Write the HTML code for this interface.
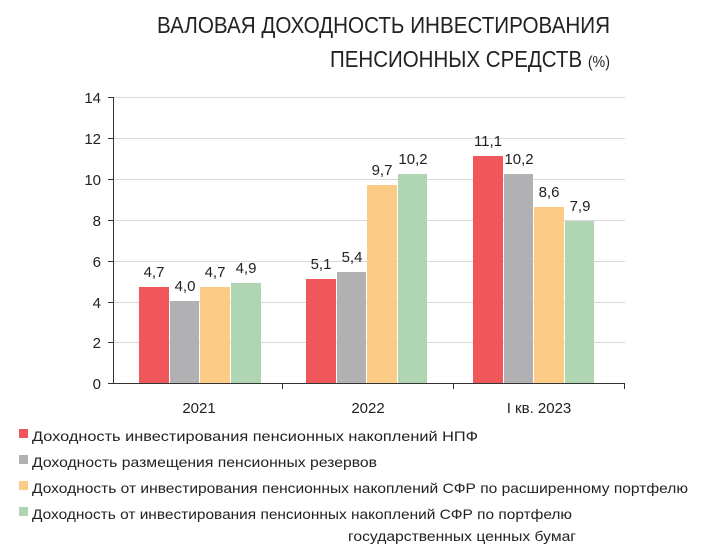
<!DOCTYPE html>
<html><head><meta charset="utf-8"><style>body{margin:0;background:#fff}svg{display:block}text{font-family:"Liberation Sans",sans-serif;fill:#222}</style></head><body>
<svg width="701" height="555" viewBox="0 0 701 555">
<text x="157" y="33" font-size="23" textLength="453" lengthAdjust="spacingAndGlyphs">ВАЛОВАЯ ДОХОДНОСТЬ ИНВЕСТИРОВАНИЯ</text>
<text x="330" y="67" font-size="23" textLength="280" lengthAdjust="spacingAndGlyphs">ПЕНСИОННЫХ СРЕДСТВ <tspan font-size="16">(%)</tspan></text>
<g stroke="#d9d9d9" stroke-width="1">
<line x1="113" x2="625" y1="97.5" y2="97.5"/><line x1="113" x2="625" y1="138.5" y2="138.5"/><line x1="113" x2="625" y1="179.5" y2="179.5"/><line x1="113" x2="625" y1="220.5" y2="220.5"/><line x1="113" x2="625" y1="261.5" y2="261.5"/><line x1="113" x2="625" y1="302.5" y2="302.5"/><line x1="113" x2="625" y1="342.5" y2="342.5"/>
</g>
<g stroke="#333" stroke-width="1">
<line x1="113.5" x2="113.5" y1="97" y2="383"/>
<line x1="108" x2="625" y1="383.5" y2="383.5"/>
<line x1="108" x2="113" y1="97.5" y2="97.5"/><line x1="108" x2="113" y1="138.5" y2="138.5"/><line x1="108" x2="113" y1="179.5" y2="179.5"/><line x1="108" x2="113" y1="220.5" y2="220.5"/><line x1="108" x2="113" y1="261.5" y2="261.5"/><line x1="108" x2="113" y1="302.5" y2="302.5"/><line x1="108" x2="113" y1="342.5" y2="342.5"/>
<line x1="282.5" x2="282.5" y1="383" y2="389"/><line x1="453.5" x2="453.5" y1="383" y2="389"/><line x1="624.5" x2="624.5" y1="383" y2="389"/>
</g>
<g font-size="15" text-anchor="end">
<text x="101" y="103">14</text><text x="101" y="144">12</text><text x="101" y="185">10</text><text x="101" y="226">8</text><text x="101" y="267">6</text><text x="101" y="308">4</text><text x="101" y="348">2</text><text x="101" y="389">0</text>
</g>
<g>
<rect x="139" y="287" width="30" height="96" fill="#f0575a"/>
<rect x="170" y="301" width="29" height="82" fill="#b1b1b3"/>
<rect x="200" y="287" width="30" height="96" fill="#fccb85"/>
<rect x="231" y="283" width="30" height="100" fill="#afd5b3"/>
<rect x="306" y="279" width="30" height="104" fill="#f0575a"/>
<rect x="337" y="272" width="29" height="111" fill="#b1b1b3"/>
<rect x="367" y="185" width="30" height="198" fill="#fccb85"/>
<rect x="398" y="174" width="29" height="209" fill="#afd5b3"/>
<rect x="473" y="156" width="30" height="227" fill="#f0575a"/>
<rect x="504" y="174" width="29" height="209" fill="#b1b1b3"/>
<rect x="534" y="207" width="30" height="176" fill="#fccb85"/>
<rect x="565" y="221" width="29" height="162" fill="#afd5b3"/>
</g>
<g font-size="15" text-anchor="middle">
<text x="154" y="277">4,7</text><text x="185" y="291">4,0</text><text x="215" y="277">4,7</text><text x="246" y="273">4,9</text>
<text x="321" y="269">5,1</text><text x="352" y="262">5,4</text><text x="382" y="175">9,7</text><text x="413" y="164">10,2</text>
<text x="488" y="146">11,1</text><text x="519" y="164">10,2</text><text x="549" y="197">8,6</text><text x="580" y="211">7,9</text>
<text x="199" y="413">2021</text><text x="368" y="413">2022</text><text x="539" y="413">I кв. 2023</text>
</g>
<rect x="19" y="429" width="9" height="9" fill="#f0575a"/>
<rect x="19" y="455" width="9" height="9" fill="#b1b1b3"/>
<rect x="19" y="481" width="9" height="9" fill="#fccb85"/>
<rect x="19" y="507" width="9" height="9" fill="#afd5b3"/>
<g font-size="14">
<text x="32" y="441" textLength="446" lengthAdjust="spacingAndGlyphs">Доходность инвестирования пенсионных накоплений НПФ</text>
<text x="32" y="467" textLength="345" lengthAdjust="spacingAndGlyphs">Доходность размещения пенсионных резервов</text>
<text x="32" y="493" textLength="656" lengthAdjust="spacingAndGlyphs">Доходность от инвестирования пенсионных накоплений СФР по расширенному портфелю</text>
<text x="32" y="519" textLength="540" lengthAdjust="spacingAndGlyphs">Доходность от инвестирования пенсионных накоплений СФР по портфелю</text>
<text x="348" y="541" textLength="228" lengthAdjust="spacingAndGlyphs">государственных ценных бумаг</text>
</g>
</svg>
</body></html>
